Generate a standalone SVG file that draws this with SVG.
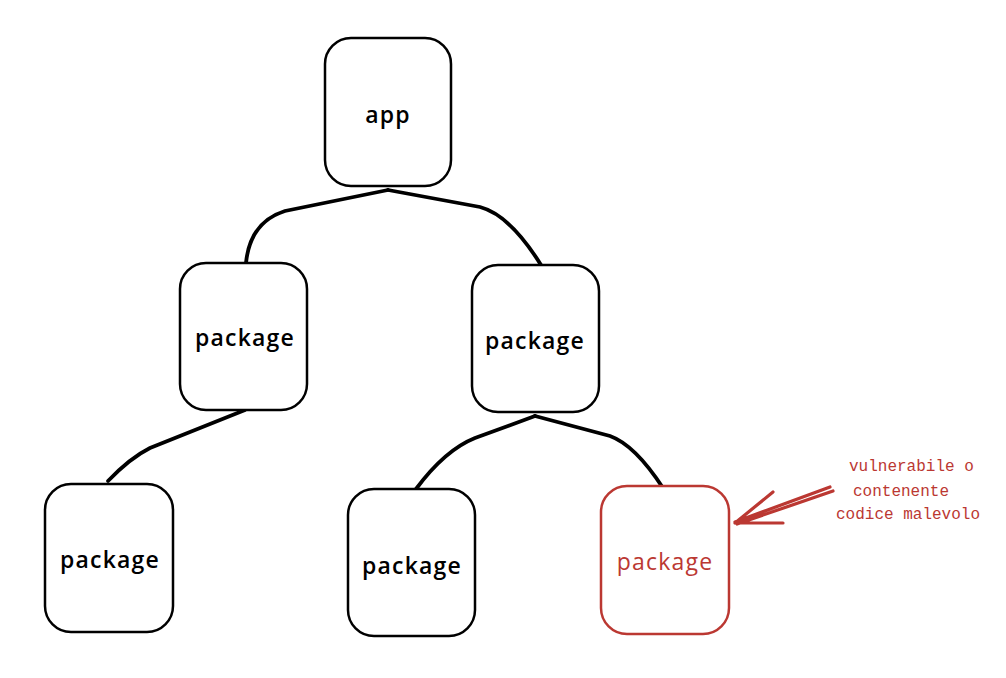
<svg xmlns="http://www.w3.org/2000/svg" width="1006" height="678" viewBox="0 0 1006 678">
<style>
.box{fill:#fff;stroke:#000;stroke-width:2.5}
.red{stroke:#bb3832}
.lbl{font-family:"Open Sans","Liberation Sans",sans-serif;font-size:23px;font-weight:600;letter-spacing:1.2px;text-anchor:middle;fill:#000}
.lblr{fill:#bb3832;font-weight:400}
.con{fill:none;stroke:#000;stroke-width:3.8;stroke-linecap:round}
.note{font-family:"Liberation Mono","DejaVu Sans Mono",monospace;font-size:16px;fill:#bb3832}
.arr{fill:none;stroke:#bb3832;stroke-width:3.2;stroke-linecap:round;stroke-linejoin:round}
</style>
<rect width="1006" height="678" fill="#fff"/>
<g id="connectors">
<path class="con" d="M388,190 L285,211 Q250,222 246,263"/>
<path class="con" d="M388,190 L480,207 Q510,215 541,265"/>
<path class="con" d="M245,410 L150,448 Q130,458 108,481"/>
<path class="con" d="M535,416 L475,438 Q445,450 416,489"/>
<path class="con" d="M535,416 L610,436 Q635,445 663,488"/>
<path class="arr" d="M830,487 L735,522 M833,491 L737,524 M735,523 L773,492 M735,523 L783,523"/>
</g>
<g id="app"><rect class="box" x="325" y="38" width="126" height="148" rx="26"/><text class="lbl" x="388" y="123" font-size="25">app</text></g>
<g id="pkg-l1"><rect class="box" x="180" y="263" width="127" height="147" rx="26"/><text class="lbl" x="245" y="346">package</text></g>
<g id="pkg-r1"><rect class="box" x="472" y="265" width="127" height="147" rx="26"/><text class="lbl" x="535" y="349">package</text></g>
<g id="pkg-bl"><rect class="box" x="45" y="484" width="128" height="148" rx="26"/><text class="lbl" x="110" y="568">package</text></g>
<g id="pkg-bm"><rect class="box" x="348" y="489" width="127" height="147" rx="26"/><text class="lbl" x="412" y="574">package</text></g>
<g id="pkg-br"><rect class="box red" x="601" y="486" width="128" height="148" rx="26"/><text class="lbl lblr" x="665" y="570">package</text></g>
<g id="note">
<text class="note" x="849" y="471">vulnerabile o</text>
<text class="note" x="853" y="496">contenente</text>
<text class="note" x="836" y="519">codice malevolo</text>
</g>
</svg>
